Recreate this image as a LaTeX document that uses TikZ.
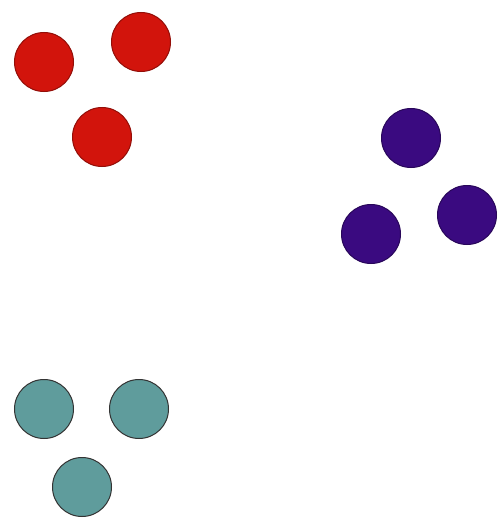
\documentclass[tikz,border=0pt]{standalone}
\definecolor{cred}{HTML}{D2140C}
\definecolor{cpurple}{HTML}{3A0A80}
\definecolor{cteal}{HTML}{5F9C9C}
\begin{document}
\begin{tikzpicture}[x=1pt,y=-1pt,
  dot/.style={circle,minimum size=59pt,inner sep=0pt,line width=1pt},
  reddot/.style={dot,fill=cred,draw=cred!70!black},
  purpledot/.style={dot,fill=cpurple,draw=cpurple!70!black},
  tealdot/.style={dot,fill=cteal,draw=black!80}]
\useasboundingbox (0,0) rectangle (501,519);
\node[reddot] (r1) at (44,62) {};
\node[reddot] (r2) at (141,42) {};
\node[reddot] (r3) at (102,137) {};
\node[purpledot] (p1) at (411,138) {};
\node[purpledot] (p2) at (467,215) {};
\node[purpledot] (p3) at (371,234) {};
\node[tealdot] (t1) at (44,409) {};
\node[tealdot] (t2) at (139,409) {};
\node[tealdot] (t3) at (82,487) {};
\end{tikzpicture}
\end{document}
